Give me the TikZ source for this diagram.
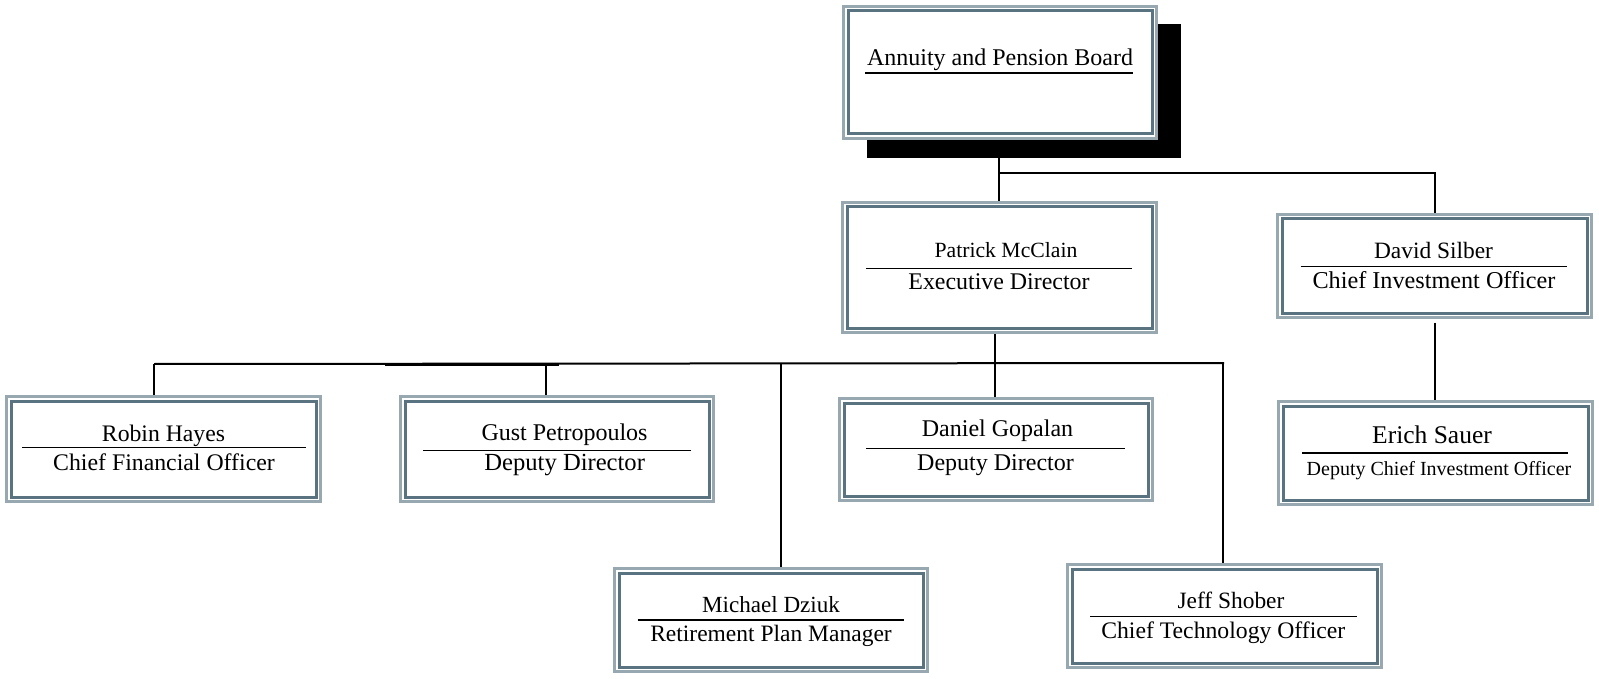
\documentclass[tikz,border=0pt]{standalone}
\usepackage{fontspec}
\setmainfont{Liberation Serif}
\definecolor{lightbd}{HTML}{98A8B0}
\definecolor{darkbd}{HTML}{5A7381}
\newcommand{\fsz}[1]{\fontsize{#1}{#1}\selectfont}
\tikzset{
  obox/.style={draw=lightbd, line width=3pt, fill=white, inner sep=0pt,
    path picture={\draw[darkbd, line width=3pt]
      ([shift={(4.5pt,-4.5pt)}]path picture bounding box.north west) rectangle
      ([shift={(-4.5pt,4.5pt)}]path picture bounding box.south east);}},
  conn/.style={line width=2pt, black},
  uline/.style={line width=1.2pt, black},
  txt/.style={anchor=base, inner sep=0pt, text=black}
}
% name, x1, y1, x2, y2 (outer edges, px, y downward)
\newcommand{\orgbox}[5]{%
  \node[obox, minimum width={#4pt-#2pt-3pt}, minimum height={#5pt-#3pt-3pt}]
    (#1) at ({(#2+#4)/2},{(#3+#5)/2}) {};}
\begin{document}
\begin{tikzpicture}[x=1pt,y=-1pt]
\useasboundingbox[fill=white] (0,0) rectangle (1599,679);

% connectors
\coordinate (jb) at (999,173);
\draw[conn] (999,150) -- (999,201);
\draw[conn] (jb) -- (1434.5,173) -- (1434.5,213);
\draw[conn] (1434.5,322.5) -- (1434.5,400);
\coordinate (busL) at (154,364);
\coordinate (busR) at (1224,363);
\draw[conn] (busL) -- (busR);
\draw[line width=3pt] (385,364.5) -- (559,364.5);
\draw[conn] (995,334) -- (995,397);
\coordinate (dRobin) at (154,364);
\coordinate (dGust) at (546.4,364);
\coordinate (dMich) at (781,364);
\coordinate (dJeff) at (1223,363);
\draw[conn] (dRobin) -- (154,396);
\draw[conn] (dGust) -- (546.4,396);
\draw[conn] (dMich) -- (781,567);
\draw[conn] (dJeff) -- (1223,564);

% shadow of board
\fill[black] (867,24) rectangle (1181,158);

% boxes
\orgbox{board}{842}{5}{1158}{140}
\orgbox{patrick}{841}{201}{1158}{334}
\orgbox{silber}{1276}{213}{1593}{319}
\orgbox{sauer}{1277}{400}{1594}{506}
\orgbox{robin}{5}{395}{322}{503}
\orgbox{gust}{399}{395}{715}{503}
\orgbox{daniel}{838}{397}{1154}{502}
\orgbox{michael}{613}{567}{929}{673}
\orgbox{jeff}{1066}{563}{1383}{669}

% texts
\node[txt] (tboard) at (1000,66) {\fsz{24}Annuity and Pension Board};
\draw[uline] (865,73) -- (1133,73);

\node[txt] (tpat1) at (1006,258) {\fsz{21.7}Patrick McClain};
\draw[uline] (866,268.3) -- (1132,268.3);
\node[txt] (tpat2) at (999,289) {\fsz{23.9}Executive Director};

\node[txt] (tsil1) at (1433.5,259) {\fsz{23.4}David Silber};
\draw[uline] (1300.5,266.7) -- (1567,266.7);
\node[txt] (tsil2) at (1434,288) {\fsz{24.2}Chief Investment Officer};

\node[txt] (tsau1) at (1432,443) {\fsz{25.5}Erich Sauer};
\draw[uline] (1302,453) -- (1568,453);
\node[txt] (tsau2) at (1439,475) {\fsz{20}Deputy Chief Investment Officer};

\node[txt] (trob1) at (163.5,441.7) {\fsz{23.7}Robin Hayes};
\draw[uline] (22,447.3) -- (306,447.3);
\node[txt] (trob2) at (164,470.7) {\fsz{23.8}Chief Financial Officer};

\node[txt] (tgus1) at (564.5,440.7) {\fsz{24}Gust Petropoulos};
\draw[uline] (423,450.3) -- (691,450.3);
\node[txt] (tgus2) at (564.7,470.7) {\fsz{24.6}Deputy Director};

\node[txt] (tdan1) at (997.5,436.7) {\fsz{24}Daniel Gopalan};
\draw[uline] (866,448.3) -- (1125,448.3);
\node[txt] (tdan2) at (995.5,470) {\fsz{24}Deputy Director};

\node[txt] (tmic1) at (771,612.7) {\fsz{23.1}Michael Dziuk};
\draw[uline] (637.7,620) -- (904,620);
\node[txt] (tmic2) at (771,641.7) {\fsz{23.5}Retirement Plan Manager};

\node[txt] (tjef1) at (1231,608.3) {\fsz{23.4}Jeff Shober};
\draw[uline] (1090,616.7) -- (1357,616.7);
\node[txt] (tjef2) at (1223.3,638.3) {\fsz{23.7}Chief Technology Officer};
\end{tikzpicture}
\end{document}
